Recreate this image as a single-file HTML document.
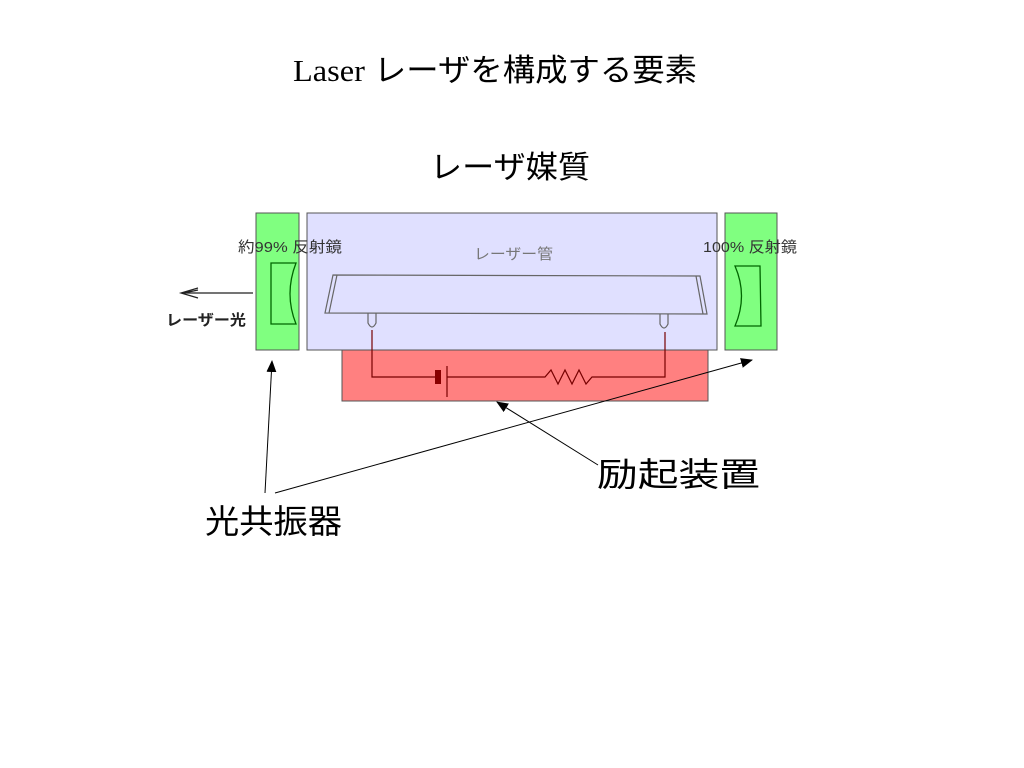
<!DOCTYPE html>
<html><head><meta charset="utf-8"><style>
html,body{margin:0;padding:0;background:#fff;width:1024px;height:768px;overflow:hidden}
svg{display:block}
.j{font-family:"Liberation Sans","Noto Sans CJK JP",sans-serif}
</style></head><body>
<svg width="1024" height="768" viewBox="0 0 1024 768" xmlns="http://www.w3.org/2000/svg">
<defs>
<marker id="a" markerWidth="12" markerHeight="10" refX="11" refY="5" orient="auto" markerUnits="userSpaceOnUse">
<path d="M0,0 L12,5 L0,10 Z" fill="#000"/></marker>
</defs>
<text x="293" y="81" font-size="31" class="j" textLength="404" lengthAdjust="spacingAndGlyphs"><tspan font-family="Liberation Serif">Laser</tspan> レーザを構成する要素</text>
<text x="430" y="178" font-size="31" class="j" textLength="160" lengthAdjust="spacingAndGlyphs">レーザ媒質</text>

<rect x="256" y="213" width="43" height="137" fill="#80ff80" stroke="#555" stroke-width="1"/>
<rect x="307" y="213" width="410" height="137" fill="#e0e0ff" stroke="#555" stroke-width="1"/>
<rect x="342" y="350" width="366" height="51" fill="#ff8080" stroke="#555" stroke-width="1"/>
<rect x="725" y="213" width="52" height="137" fill="#80ff80" stroke="#555" stroke-width="1"/>

<text x="238" y="252" font-size="15" fill="#333" class="j" textLength="104" lengthAdjust="spacingAndGlyphs">約99% 反射鏡</text>
<text x="474" y="259" font-size="15" fill="#777" class="j" textLength="79" lengthAdjust="spacingAndGlyphs">レーザー管</text>
<text x="703" y="252" font-size="15" fill="#333" class="j" textLength="94" lengthAdjust="spacingAndGlyphs">100% 反射鏡</text>
<text x="166" y="325" font-size="15" fill="#222" class="j" font-weight="bold" textLength="80" lengthAdjust="spacingAndGlyphs">レーザー光</text>

<line x1="253" y1="293" x2="182" y2="293" stroke="#222" stroke-width="1.2"/>
<path d="M198,288 L181,293 L198,298 M198,290 L184,293" fill="none" stroke="#222" stroke-width="1.2"/>

<path d="M271,263 L296,263 Q284,294 296,324 L271,324 Z" fill="none" stroke="#060" stroke-width="1.3"/>
<path d="M735,266 L760,266 L761,326 L735,326 Q748,296 735,266 Z" fill="none" stroke="#060" stroke-width="1.3"/>

<g fill="none" stroke="#666" stroke-width="1.2">
<path d="M333,275 L700,276 L707,314 L325,313 Z"/>
<path d="M337,275 L329,313"/>
<path d="M696,276 L703,314"/>
<path d="M368,313 L368,323 Q372,331 376,323 L376,313"/>
<path d="M660,314 L660,324 Q664,332 668,324 L668,314"/>
</g>
<g fill="none" stroke="#700" stroke-width="1.2">
<path d="M372,330 L372,377 L435,377"/>
<path d="M447,377 L545,377 L551,370 L558,384 L565,370 L572,384 L579,370 L586,384 L592,377 L665,377 L665,332"/>
<line x1="447" y1="366" x2="447" y2="397"/>
</g>
<rect x="435" y="370" width="6" height="14" fill="#800"/>

<line x1="265" y1="493" x2="272" y2="361" stroke="#000" stroke-width="1" marker-end="url(#a)"/>
<line x1="275" y1="493" x2="752" y2="360" stroke="#000" stroke-width="1" marker-end="url(#a)"/>
<line x1="598" y1="465" x2="497" y2="402" stroke="#000" stroke-width="1" marker-end="url(#a)"/>

<text x="597" y="486" font-size="33" class="j" textLength="163" lengthAdjust="spacingAndGlyphs">励起装置</text>
<text x="205" y="533" font-size="33" class="j" textLength="137" lengthAdjust="spacingAndGlyphs">光共振器</text>
</svg>
</body></html>
